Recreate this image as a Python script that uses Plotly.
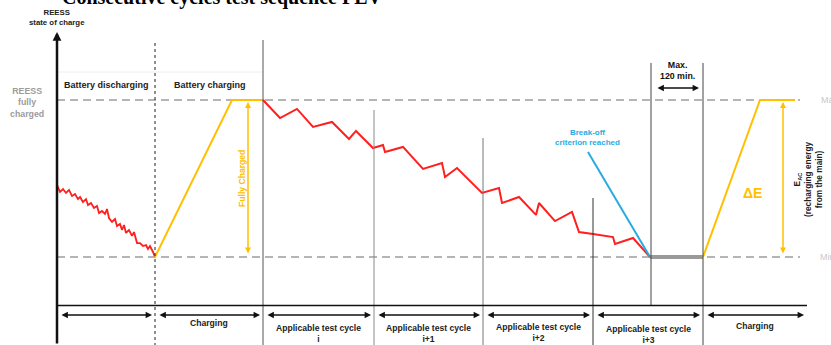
import plotly.graph_objects as go

# ---- data: state of charge (%, Min = 0, Max = 100) over the test sequence ----
discharge_t = [57, 60, 63, 66, 69, 72, 75, 78, 80, 83, 86, 88, 91, 94, 97, 99, 102, 105, 107, 109,
               112, 115, 117, 120, 122, 124, 126, 129, 132, 134, 137, 140, 143, 146, 148, 150, 153, 155]
discharge_soc = [45.9, 41.4, 43.3, 40.8, 42.7, 38.9, 40.1, 36.9, 38.2, 35.0, 36.9, 33.1, 34.4, 31.2,
                 32.5, 28.0, 29.3, 27.4, 30.6, 24.8, 22.3, 24.2, 19.7, 21.0, 17.2, 20.4, 15.3, 17.2,
                 13.4, 15.9, 8.9, 8.9, 7.0, 7.6, 5.1, 7.0, 3.2, 0]

charge1_t = [155, 232, 263]
charge1_soc = [0, 100, 100]

cycle_t = [263, 280, 297, 313, 332, 349, 356, 373, 383, 385, 403, 423, 442, 445, 457, 482, 499,
           502, 519, 536, 539, 555, 572, 579, 593, 613, 615, 633, 650]
cycle_soc = [100, 88.5, 94.3, 82.8, 86.0, 75.2, 80.3, 69.4, 71.3, 66.9, 70.1, 56.1, 59.9, 51.0,
             56.7, 40.8, 43.9, 34.4, 38.2, 26.8, 34.4, 22.9, 28.7, 15.9, 14.6, 12.7, 8.3, 12.1, 0]

hold_t = [650, 703]
hold_soc = [0, 0]

breakoff_t = [588, 650]
breakoff_soc = [66.9, 0]

charge2_t = [703, 760, 795]
charge2_soc = [0, 100, 100]

section_edges = [57, 155, 263, 374, 483, 593, 703, 807]
section_labels = ["", "Charging", "Applicable test cycle<br>i", "Applicable test cycle<br>i+1",
                  "Applicable test cycle<br>i+2", "Applicable test cycle<br>i+3", "Charging"]

# ---- styling ----
RED = "#ff1f1f"
YELLOW = "#ffc000"
BLUE = "#29abe2"
DASH_GREY = "#b5b5b5"
FONT = "Liberation Sans, Arial, sans-serif"
W, H = 831, 345


def sy(ypx):
    """Vertical position in SOC units for a screen row."""
    return (257 - ypx) / 1.57


def py(ypx):
    return 1 - ypx / H


fig = go.Figure()


def add_line(t, soc, color, width):
    fig.add_trace(go.Scatter(x=t, y=soc, mode="lines", line=dict(color=color, width=width),
                             hoverinfo="skip", showlegend=False))


add_line(hold_t, hold_soc, "#9a9a9a", 4)
add_line(discharge_t, discharge_soc, RED, 1.8)
add_line(charge1_t, charge1_soc, YELLOW, 2)
add_line(cycle_t, cycle_soc, RED, 2)
add_line(breakoff_t, breakoff_soc, BLUE, 2)
add_line(charge2_t, charge2_soc, YELLOW, 2)

shapes = []
# Max / Min reference levels
for lvl in (100, 0):
    shapes.append(dict(type="line", x0=57, x1=800, y0=lvl, y1=lvl, layer="below",
                       line=dict(color=DASH_GREY, width=2, dash="8px,5px")))
# faint header rule
shapes.append(dict(type="line", x0=57, x1=263, y0=sy(72), y1=sy(72), layer="below",
                   line=dict(color="#eeeeee", width=1)))
# section boundary at end of discharge (dotted)
shapes.append(dict(type="line", x0=155, x1=155, y0=sy(43), y1=sy(345),
                   line=dict(color="#222222", width=1, dash="dot")))
# thin phase separators
for x, top, bottom, col in [(263, 40, 345, "#555555"), (374, 110, 345, "#8a8a8a"),
                            (483, 138, 345, "#777777"), (593, 198, 345, "#333333"),
                            (651, 63, 306, "#444444"), (703, 63, 345, "#444444")]:
    shapes.append(dict(type="line", x0=x, x1=x, y0=sy(top), y1=sy(bottom),
                       line=dict(color=col, width=1)))
# time axis
shapes.append(dict(type="line", x0=57, x1=807, y0=sy(305.5), y1=sy(305.5),
                   line=dict(color="#111111", width=1.6)))

ann = []


def arrow(x0, y0, x1, y1, color, width=1.5, size=0.9, both=True):
    ann.append(dict(x=x1, y=y1, ax=x0, ay=y0, xref="x", yref="y", axref="x", ayref="y",
                    text="", showarrow=True, arrowhead=2, arrowsize=size, arrowwidth=width,
                    arrowcolor=color, arrowside="end+start" if both else "end",
                    standoff=0, startstandoff=0))


def label(x, y, text, size=9, color="#222222", angle=0, bold=True, xanchor="center"):
    ann.append(dict(x=x, y=y, xref="x", yref="y", text=f"<b>{text}</b>" if bold else text,
                    showarrow=False, textangle=angle, xanchor=xanchor, yanchor="middle",
                    font=dict(family=FONT, size=size, color=color)))


# SOC axis with arrow head
arrow(57, sy(345), 57, sy(32), "#111111", width=2.5, size=0.7, both=False)

# bottom phase arrows and labels
label_rows = {1: 323, 2: 333.5, 3: 333.5, 4: 332.5, 5: 334, 6: 326}
for i in range(len(section_edges) - 1):
    a, b = section_edges[i], section_edges[i + 1]
    arrow(a + 3, sy(315), b - 3, sy(315), "#111111", width=1.6, size=0.8)
    if section_labels[i]:
        label((a + b) / 2, sy(label_rows[i]), section_labels[i], size=8.6)

# phase headers
label(106, sy(85), "Battery discharging", size=9)
label(210, sy(85), "Battery charging", size=9)

# full-charge arrows
arrow(248, sy(255), 248, sy(102), YELLOW, width=1.5, size=0.8)
label(242, sy(179), "Fully Charged", size=8.6, color=YELLOW, angle=-90)
arrow(783, sy(255), 783, sy(102), YELLOW, width=1.5, size=0.8)
label(752, sy(193), "ΔE", size=14, color=YELLOW)
label(808, sy(179), "E<sub>AC</sub><br>(recharging energy<br>from the main)", size=8.3,
      color="#222222", angle=-90)

# break-off annotation
label(587, sy(137), "Break-off<br>criterion reached", size=8, color=BLUE)

# rest period
label(677, sy(70), "Max.<br>120 min.", size=8.8, color="#111111")
arrow(656, sy(88), 699, sy(88), "#111111", width=1.6, size=0.8)

# level labels
label(27, sy(102), "REESS<br>fully<br>charged", size=8.8, color="#9c9c9c")
label(819, sy(100), "Max", size=9, color="#c8c8c8", bold=False, xanchor="left")
label(818, sy(257), "Min", size=9, color="#c8c8c8", bold=False, xanchor="left")
label(57, sy(17), "REESS<br>state of charge", size=7.8, color="#222222")

# title (partly above the visible area)
ann.append(dict(x=60 / W, y=py(-3), xref="paper", yref="paper", xanchor="left", yanchor="middle",
                text="<b>Consecutive cycles test sequence PEV</b>", showarrow=False,
                font=dict(family="Liberation Serif, Times New Roman, serif", size=20,
                          color="#000000")))

fig.update_layout(
    width=W, height=H, margin=dict(l=0, r=0, t=0, b=0),
    paper_bgcolor="white", plot_bgcolor="white",
    xaxis=dict(range=[0, W], visible=False, fixedrange=True),
    yaxis=dict(range=[sy(H), sy(0)], visible=False, fixedrange=True),
    shapes=shapes, annotations=ann, showlegend=False,
)

fig.write_html("out.html")
